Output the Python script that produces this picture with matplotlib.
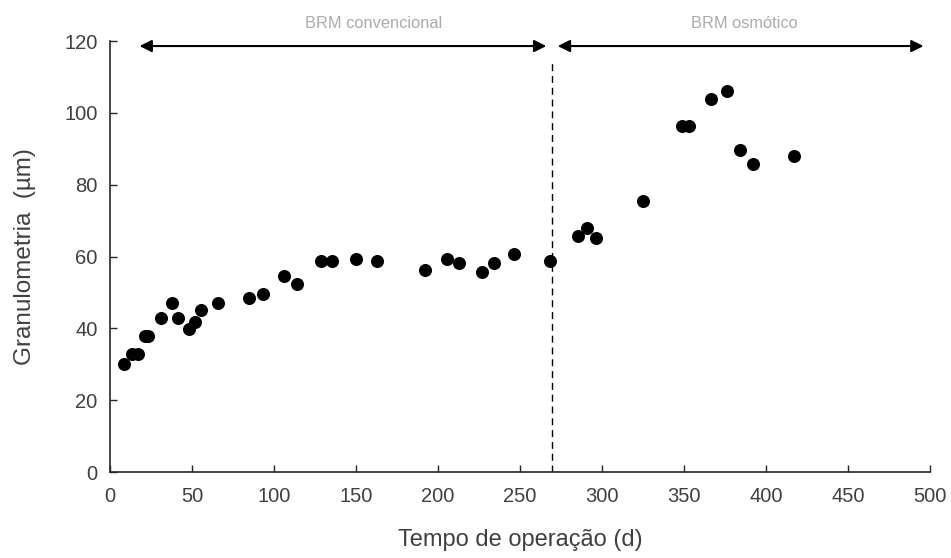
import matplotlib.pyplot as plt

plt.rcParams['font.family'] = ['Liberation Sans', 'DejaVu Sans']

# operation time (d) and granulometry (um)
days = [8.5, 13.6, 17.3, 21.3, 23.4, 30.9, 37.8, 41.6, 48.4, 51.8, 55.3, 66.0,
        84.8, 93.3, 106.1, 113.8, 128.5, 135.5, 150, 162.6, 192, 205.7, 212.6,
        227, 234, 246.5, 268.3, 285.6, 290.7, 296.3, 324.8, 349, 353, 366.5,
        376.4, 384.1, 391.9, 417.3]
granulo = [30.0, 32.8, 32.8, 38.0, 38.0, 43.0, 47.0, 43.0, 39.8, 41.7, 45.1, 47.0,
           48.4, 49.6, 54.6, 52.3, 58.8, 58.8, 59.3, 58.8, 56.2, 59.3, 58.1,
           55.8, 58.1, 60.7, 58.8, 65.7, 67.9, 65.2, 75.5, 96.3, 96.3, 103.9,
           106.1, 89.7, 85.7, 87.9]

switch_day = 269.5
phases = ['BRM convencional', 'BRM osmótico']
phase_spans = [(18, 266), (273, 496)]
phase_text_x = [161, 387]

txt = '#404040'
fig = plt.figure(figsize=(9.51, 5.58), dpi=100)
ax = fig.add_axes([0.1157, 0.1541, 0.8623, 0.7724])

ax.scatter(days, granulo, s=88, color='black', zorder=3, linewidths=0)
ax.plot([switch_day, switch_day], [0, 114], color='black', lw=1,
        linestyle=(0, (5, 3.5)), zorder=2)

for (a, b), name, tx in zip(phase_spans, phases, phase_text_x):
    ax.annotate('', xy=(a, 118.6), xytext=(b, 118.6),
                arrowprops=dict(arrowstyle='<|-|>', color='black', lw=1.5,
                                mutation_scale=18, shrinkA=0, shrinkB=0),
                annotation_clip=False)
    ax.text(tx, 125, name, ha='center', va='center', fontsize=11.8,
            color='#ababab', clip_on=False)

ax.set_xlim(0, 500)
ax.set_ylim(0, 120)
ax.set_xticks(range(0, 501, 50))
ax.set_yticks(range(0, 121, 20))
ax.spines['top'].set_visible(False)
ax.spines['right'].set_visible(False)
for s in ['left', 'bottom']:
    ax.spines[s].set_linewidth(1.2)
    ax.spines[s].set_color('#262626')
ax.tick_params(direction='in', length=5, width=1, color='#262626',
               labelsize=14.5, labelcolor=txt)
ax.tick_params(axis='x', pad=11)
ax.tick_params(axis='y', pad=9)
ax.set_xlabel('Tempo de operação (d)', fontsize=17, color=txt, labelpad=16)
ax.set_ylabel('Granulometria  (µm)', fontsize=17.5, color=txt, labelpad=20)

fig.savefig('out.png', dpi=100)
